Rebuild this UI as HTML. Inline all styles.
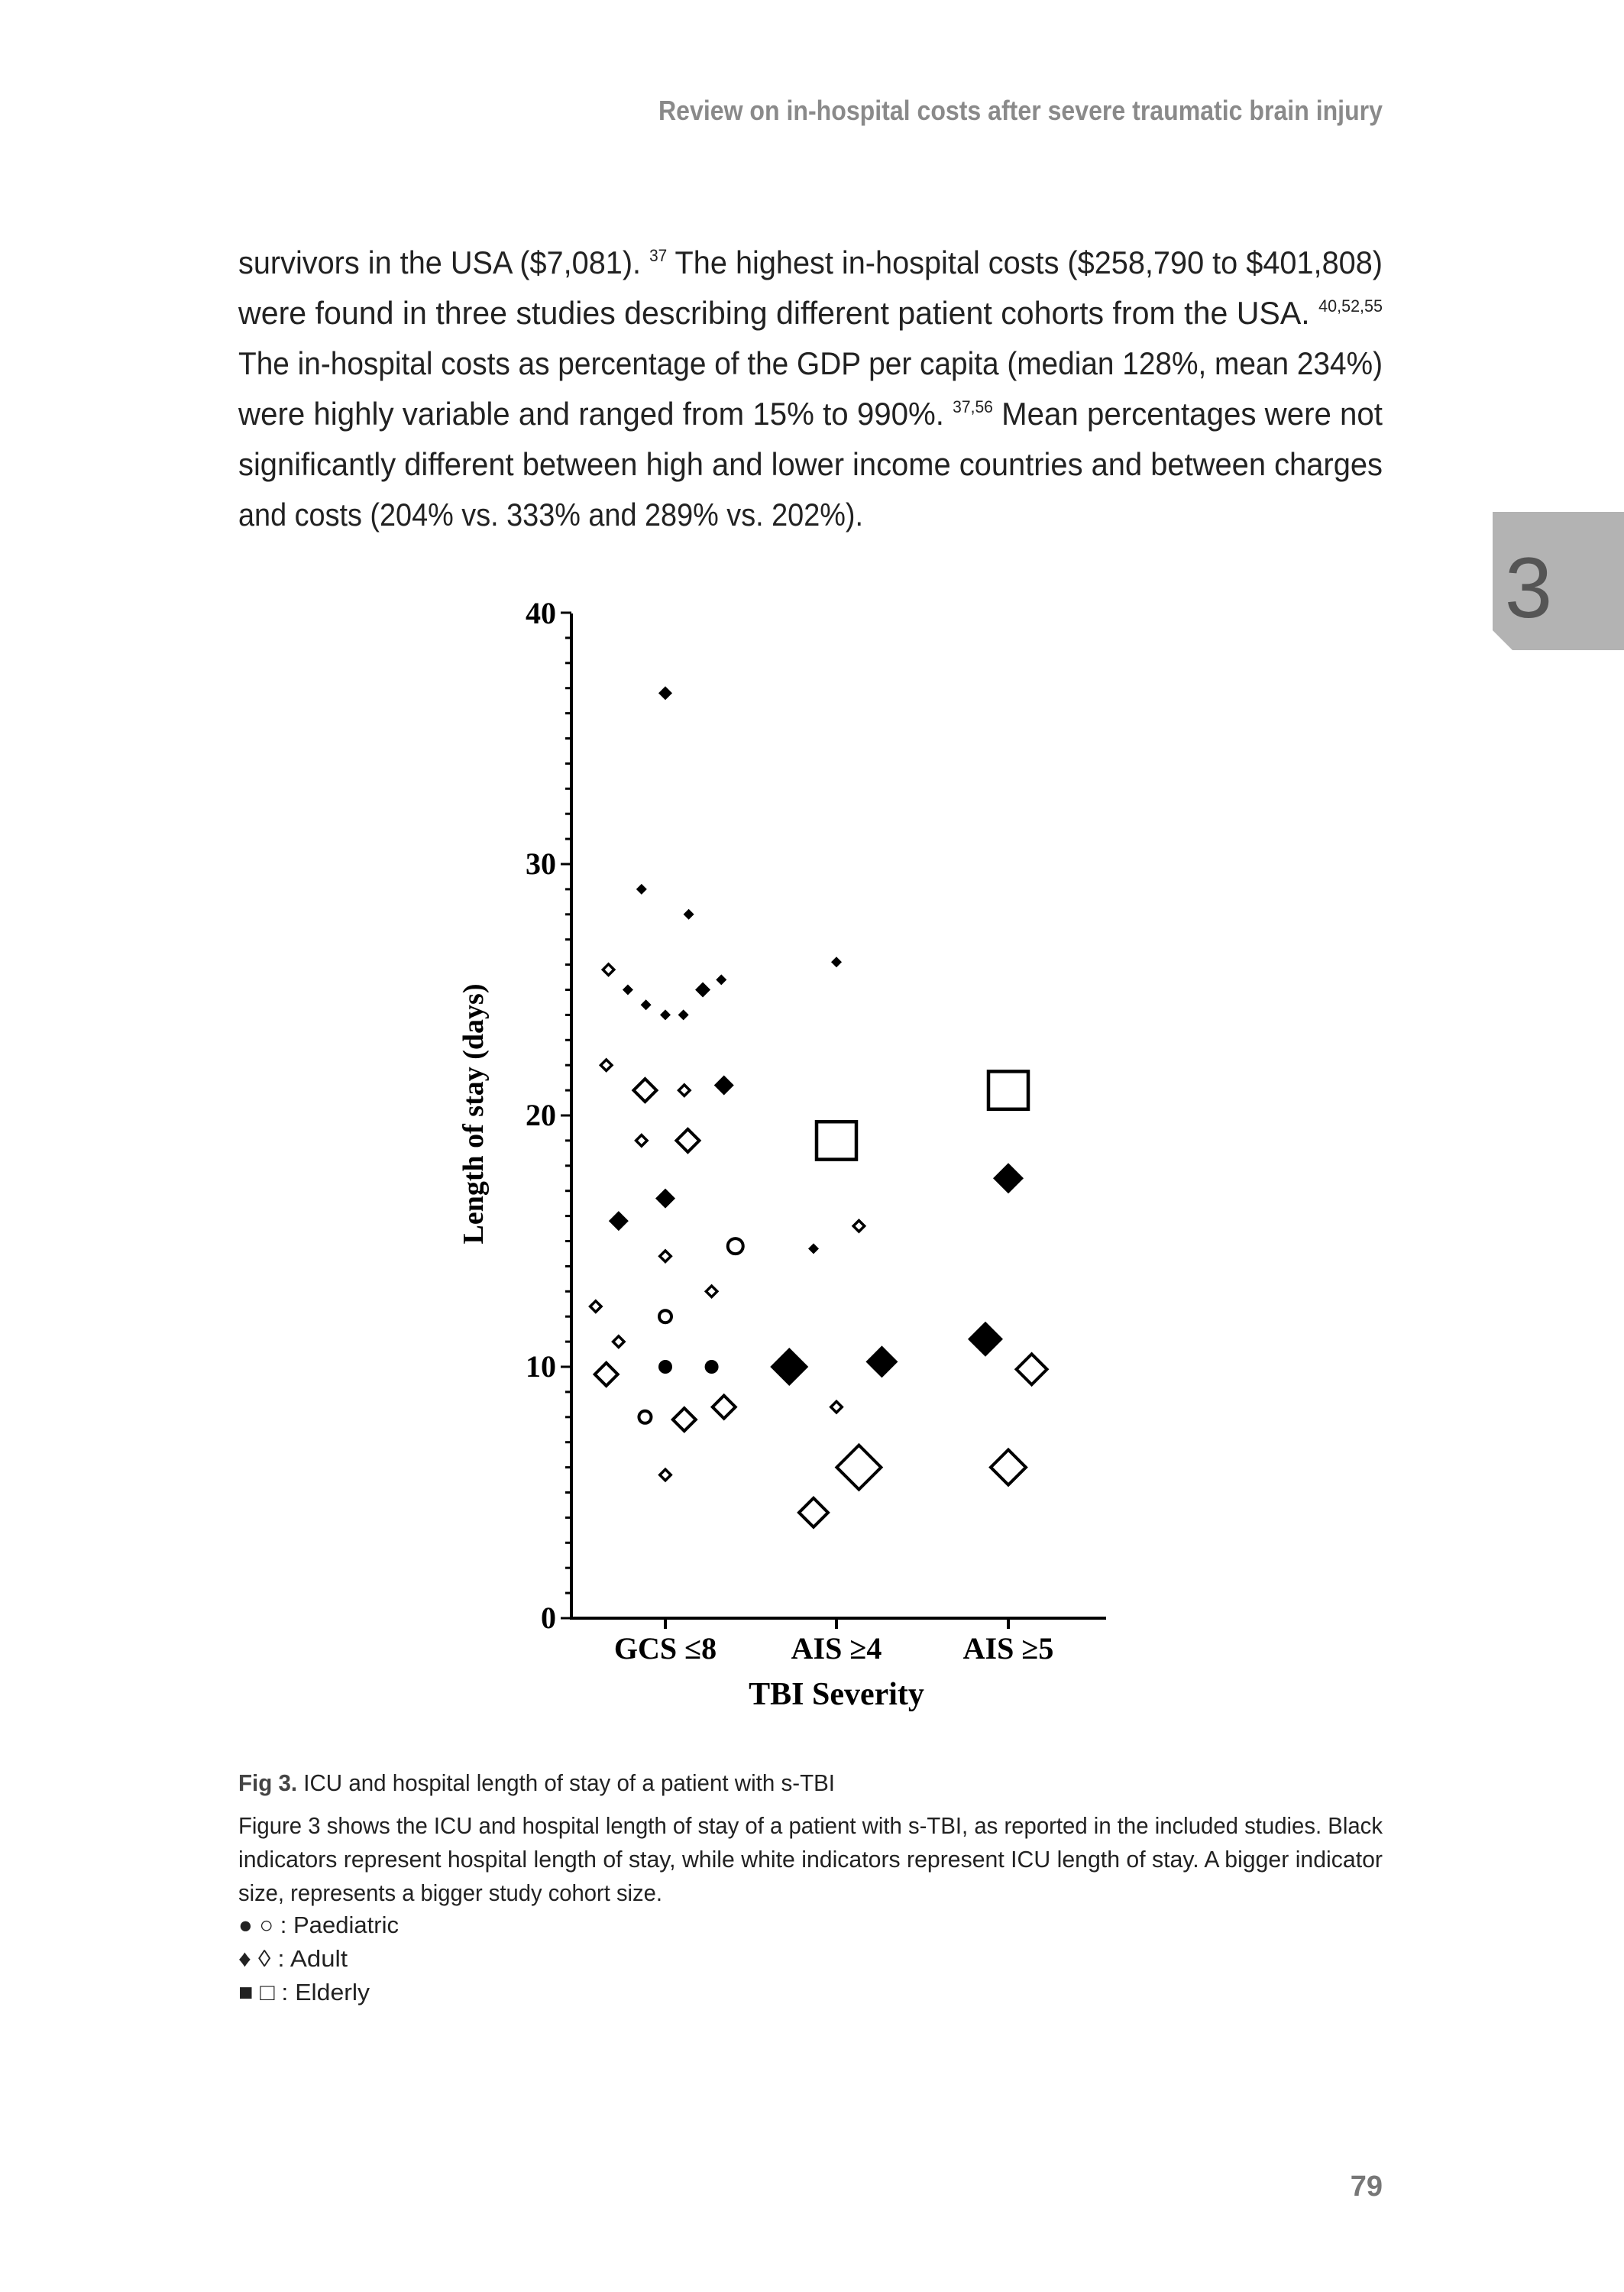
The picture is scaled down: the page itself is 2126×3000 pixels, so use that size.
<!DOCTYPE html>
<html><head><meta charset="utf-8"><style>html,body{margin:0;padding:0;background:#fff}svg{display:block}</style></head><body>
<svg width="2126" height="3000" viewBox="0 0 2126 3000" xmlns="http://www.w3.org/2000/svg">
<rect width="2126" height="3000" fill="#fff"/>
<g font-family="Liberation Sans Narrow, Liberation Sans, sans-serif">
<text x="1810" y="157" text-anchor="end" font-size="36" font-weight="bold" fill="#8a8a8a" textLength="948" lengthAdjust="spacingAndGlyphs">Review on in-hospital costs after severe traumatic brain injury</text>
<g font-size="42" fill="#222">
<text x="312" y="358" textLength="1498" lengthAdjust="spacingAndGlyphs">survivors in the USA ($7,081). <tspan font-size="22" dy="-16">37</tspan><tspan dy="16"> The highest in-hospital costs ($258,790 to $401,808)</tspan></text>
<text x="312" y="424" textLength="1498" lengthAdjust="spacingAndGlyphs">were found in three studies describing different patient cohorts from the USA. <tspan font-size="22" dy="-16">40,52,55</tspan></text>
<text x="312" y="490" textLength="1498" lengthAdjust="spacingAndGlyphs">The in-hospital costs as percentage of the GDP per capita (median 128%, mean 234%)</text>
<text x="312" y="556" textLength="1498" lengthAdjust="spacingAndGlyphs">were highly variable and ranged from 15% to 990%. <tspan font-size="22" dy="-16">37,56</tspan><tspan dy="16"> Mean percentages were not</tspan></text>
<text x="312" y="622" textLength="1498" lengthAdjust="spacingAndGlyphs">significantly different between high and lower income countries and between charges</text>
<text x="312" y="688" textLength="818" lengthAdjust="spacingAndGlyphs">and costs (204% vs. 333% and 289% vs. 202%).</text>
</g>
<g font-size="31" fill="#222">
<text x="312" y="2344" textLength="781" lengthAdjust="spacingAndGlyphs"><tspan font-weight="bold" fill="#444">Fig 3.</tspan> ICU and hospital length of stay of a patient with s-TBI</text>
<text x="312" y="2400" textLength="1498" lengthAdjust="spacingAndGlyphs">Figure 3 shows the ICU and hospital length of stay of a patient with s-TBI, as reported in the included studies. Black</text>
<text x="312" y="2444" textLength="1498" lengthAdjust="spacingAndGlyphs">indicators represent hospital length of stay, while white indicators represent ICU length of stay. A bigger indicator</text>
<text x="312" y="2488" textLength="555" lengthAdjust="spacingAndGlyphs">size, represents a bigger study cohort size.</text>
<text x="312" y="2530" textLength="210" lengthAdjust="spacingAndGlyphs">● ○ : Paediatric</text>
<text x="312" y="2574" textLength="143" lengthAdjust="spacingAndGlyphs">♦ ◊ : Adult</text>
<text x="312" y="2618" textLength="172" lengthAdjust="spacingAndGlyphs">■ □ : Elderly</text>
</g>
<text x="1810" y="2874" text-anchor="end" font-size="38" font-weight="bold" fill="#777">79</text>
</g>
<path d="M1954 670 H2126 V851 H1980 L1954 825 Z" fill="#b3b3b3"/>
<text x="2001" y="808" text-anchor="middle" font-family="Liberation Sans, sans-serif" font-size="112" fill="#555">3</text>

<g id="chart" font-family="Liberation Serif, serif" font-weight="bold" fill="#000">
<g stroke="#000" stroke-width="4">
<line x1="748" y1="803" x2="748" y2="2120"/>
<line x1="746" y1="2118" x2="1448" y2="2118"/>
<line x1="871" y1="2118" x2="871" y2="2132"/>
<line x1="1095" y1="2118" x2="1095" y2="2132"/>
<line x1="1320" y1="2118" x2="1320" y2="2132"/>
</g>
<g id="ticks" stroke="#000" stroke-width="3"></g>
<g font-size="40" text-anchor="end">
<text x="728" y="2131">0</text><text x="728" y="1802">10</text><text x="728" y="1473">20</text><text x="728" y="1144">30</text><text x="728" y="816">40</text>
</g>
<g font-size="40" text-anchor="middle">
<text x="871" y="2171">GCS ≤8</text><text x="1095" y="2171">AIS ≥4</text><text x="1320" y="2171">AIS ≥5</text>
<text x="1095" y="2231" font-size="42">TBI Severity</text>
</g>
<text transform="translate(632,1458) rotate(-90)" font-size="38" text-anchor="middle">Length of stay (days)</text>
<g id="pts"></g>
</g>
</svg>
<script>
var NS="http://www.w3.org/2000/svg";
function Y(d){return 2118-d*32.9;}
var t=document.getElementById("ticks");
for(var i=0;i<=40;i++){var l=document.createElementNS(NS,"line");var L=(i%10==0)?14:8;
l.setAttribute("x1",748-L);l.setAttribute("x2",748);l.setAttribute("y1",Y(i));l.setAttribute("y2",Y(i));t.appendChild(l);}
var cols=[[507,871],[897,1095],[1287,1320]];
var P=[
[0,507,36.8,'d',1,9],[0,453,29,'d',1,7],[0,560,28,'d',1,7],[0,378,25.8,'d',0,9],[0,422,25,'d',1,7],
[0,463,24.4,'d',1,7],[0,507,24,'d',1,7],[0,548,24,'d',1,7],[0,592,25,'d',1,10],[0,634,25.4,'d',1,7],
[0,373,22,'d',0,9],[0,461,21,'d',0,17],[0,550,21,'d',0,9],[0,640,21.2,'d',1,13],[0,453,19,'d',0,9],
[0,558,19,'d',0,17],[0,507,16.7,'d',1,13],[0,401,15.8,'d',1,13],[0,507,14.4,'d',0,9],[0,666,14.8,'c',0,12],
[0,349,12.4,'d',0,9],[0,612,13,'d',0,9],[0,507,12,'c',0,10],[0,401,11,'d',0,9],[0,507,10,'c',1,9],
[0,612,10,'c',1,9],[0,373,9.7,'d',0,17],[0,461,8,'c',0,10],[0,550,7.9,'d',0,17],[0,640,8.4,'d',0,17],[0,507,5.7,'d',0,9],
[1,897,26.1,'d',1,7],[1,897,19,'s',0,26],[1,845,14.7,'d',1,7],[1,948,15.6,'d',0,9],[1,790,10,'d',1,25],
[1,1000,10.2,'d',1,21],[1,897,8.4,'d',0,9],[1,948,6,'d',0,31],[1,845,4.2,'d',0,21],
[2,1287,21,'s',0,26],[2,1287,17.5,'d',1,20],[2,1235,11.1,'d',1,23],[2,1340,9.9,'d',0,22],[2,1287,6,'d',0,25]];
var g=document.getElementById("pts");
P.forEach(function(p){var cx=cols[p[0]][1]+(p[1]-cols[p[0]][0])/1.733,cy=Y(p[2]),h=p[5],e;
var fill=p[4]?"#000":"#fff",sw=p[4]?0:(h>15?4:3.5);
if(p[3]=='d'){e=document.createElementNS(NS,"polygon");var hh=p[4]?h:h-sw/2;
e.setAttribute("points",(cx-hh)+","+cy+" "+cx+","+(cy-hh)+" "+(cx+hh)+","+cy+" "+cx+","+(cy+hh));}
else if(p[3]=='c'){e=document.createElementNS(NS,"circle");e.setAttribute("cx",cx);e.setAttribute("cy",cy);e.setAttribute("r",p[4]?h:h-2);sw=p[4]?0:4;}
else{e=document.createElementNS(NS,"rect");e.setAttribute("x",cx-h);e.setAttribute("y",cy-h*0.95);e.setAttribute("width",2*h);e.setAttribute("height",1.9*h);sw=4.5;}
e.setAttribute("fill",fill);if(sw){e.setAttribute("stroke","#000");e.setAttribute("stroke-width",sw);}
g.appendChild(e);});
</script>
</body></html>
